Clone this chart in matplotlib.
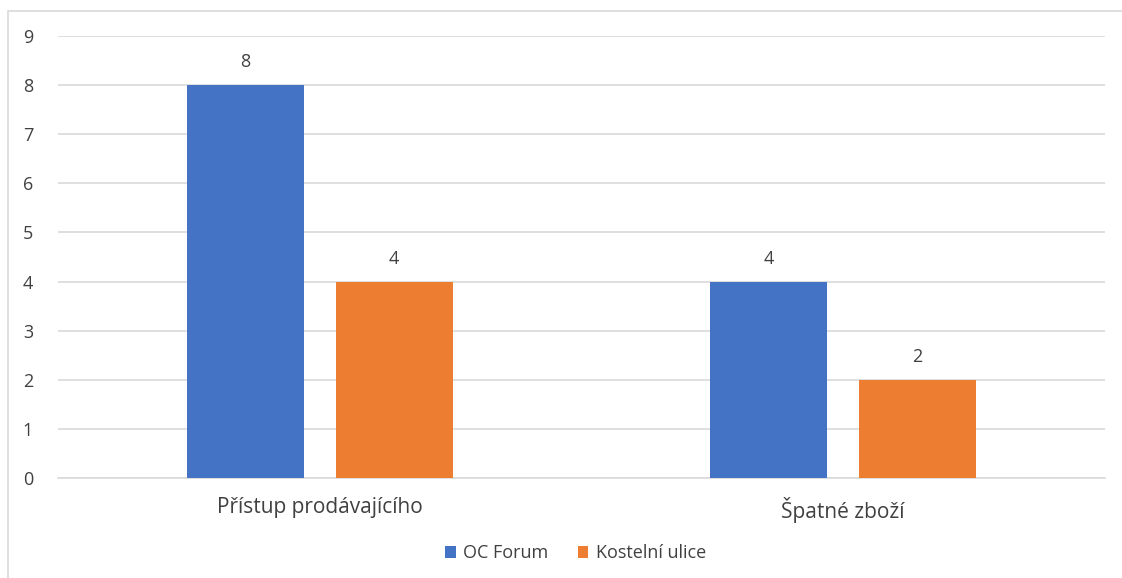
import numpy as np
import matplotlib.pyplot as plt
from matplotlib.patches import Rectangle

plt.rcParams['font.family'] = ['Open Sans', 'DejaVu Sans']

# data
categories = ['Přístup prodávajícího', 'Špatné zboží']
series_names = ['OC Forum', 'Kostelní ulice']
oc_forum = [8, 4]
kostelni = [4, 2]
colors = ['#4472C4', '#ED7D31']
text_color = '#404040'
grid_color = '#d9d9d9'

fig = plt.figure(figsize=(11.22, 5.78), dpi=100)
ax = fig.add_axes([0.0517, 0.173, 0.9331, 0.7647])

# outer chart frame
fig.patches.append(Rectangle((8 / 1122, -0.05), 1.2, 1 - 11 / 578 + 0.05,
                             transform=fig.transFigure, fill=False,
                             edgecolor=grid_color, linewidth=1.2))

x = np.arange(len(categories))
w = 0.2235
off = 0.142
for vals, name, c, dx in [(oc_forum, series_names[0], colors[0], -off),
                          (kostelni, series_names[1], colors[1], off)]:
    bars = ax.bar(x + dx, vals, w, color=c, label=name, zorder=3)
    for b, v in zip(bars, vals):
        ax.annotate(str(v), (b.get_x() + b.get_width() / 2, v),
                    xytext=(0, 10), textcoords='offset points',
                    ha='center', va='bottom', fontsize=13, color=text_color)

ax.set_xlim(-0.5, 1.5)
ax.set_ylim(0, 9)
ax.set_yticks(range(10))
ax.yaxis.grid(True, color=grid_color, linewidth=1.2, zorder=0)
ax.set_axisbelow(True)
for s in ['top', 'right', 'left']:
    ax.spines[s].set_visible(False)
ax.spines['bottom'].set_color(grid_color)
ax.spines['bottom'].set_linewidth(1.2)
ax.tick_params(axis='both', length=0, labelsize=13, labelcolor=text_color)
ax.tick_params(axis='y', pad=18)
ax.tick_params(axis='x', pad=14, labelsize=15)
ax.set_xticks(x)
ax.set_xticklabels(categories)

fig.legend(loc='center', bbox_to_anchor=(0.513, 0.043), ncol=2,
           frameon=False, fontsize=13, handlelength=0.6, handleheight=0.6,
           handletextpad=0.4, columnspacing=1.6, labelcolor=text_color)

fig.savefig('out.png', dpi=100)
